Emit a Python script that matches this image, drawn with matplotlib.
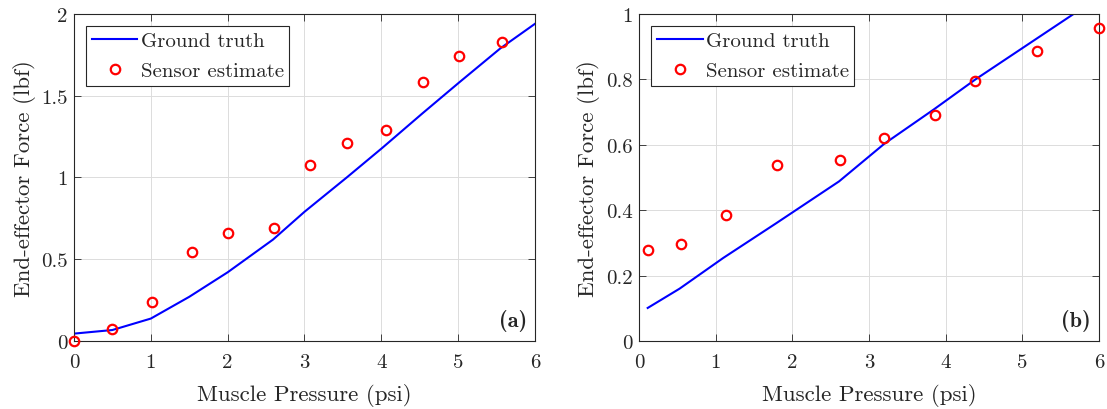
import matplotlib
matplotlib.use("Agg")
import matplotlib.pyplot as plt

plt.rcParams["font.family"] = "cmr10"
plt.rcParams["mathtext.fontset"] = "cm"
plt.rcParams["axes.formatter.use_mathtext"] = True

# Panel (a)
gt_a_x = [0.0, 0.5, 1.0, 1.5, 2.0, 2.59, 3.0, 3.55, 4.01, 4.53, 5.01, 5.55, 6.0]
gt_a_y = [0.045, 0.067, 0.137, 0.27, 0.42, 0.62, 0.79, 1.0, 1.18, 1.39, 1.58, 1.79, 1.94]
est_a_x = [0.0, 0.5, 1.01, 1.53, 2.0, 2.6, 3.07, 3.55, 4.06, 4.54, 5.01, 5.57]
est_a_y = [0.0, 0.075, 0.24, 0.547, 0.66, 0.69, 1.078, 1.208, 1.288, 1.584, 1.743, 1.83]

# Panel (b)
gt_b_x = [0.114, 0.53, 1.10, 1.79, 2.61, 3.2, 3.84, 4.39, 5.03, 5.67, 6.0]
gt_b_y = [0.101, 0.16, 0.254, 0.36, 0.488, 0.603, 0.707, 0.80, 0.90, 1.0, 1.052]
est_b_x = [0.114, 0.55, 1.14, 1.80, 2.62, 3.2, 3.86, 4.39, 5.19, 6.0]
est_b_y = [0.277, 0.296, 0.386, 0.538, 0.552, 0.62, 0.691, 0.796, 0.886, 0.956]

TXT = "#262626"

fig = plt.figure(figsize=(11.07, 4.10), dpi=100)
ax1 = fig.add_axes([0.0668, 0.1659, 0.4165, 0.7976])
ax2 = fig.add_axes([0.5772, 0.1659, 0.4155, 0.7976])


def style(ax, gx, gy, ex, ey, ylim, yticks, yticklabels, tag):
    ax.plot(gx, gy, "-", color="#0000ff", linewidth=1.5, label="Ground truth")
    ax.plot(ex, ey, "o", markerfacecolor="none", markeredgecolor="#ff0000",
            markeredgewidth=1.6, markersize=6.8, label="Sensor estimate", clip_on=False,
            zorder=5)
    ax.set_xlim(0, 6)
    ax.set_ylim(*ylim)
    ax.set_xticks(range(7))
    ax.set_xticklabels([str(i) for i in range(7)])
    ax.set_yticks(yticks)
    ax.set_yticklabels(yticklabels)
    ax.tick_params(direction="in", top=True, right=True, labelsize=15, colors=TXT,
                   length=5, width=0.6)
    ax.tick_params(axis="x", pad=9)
    ax.tick_params(axis="y", pad=4.5)
    ax.grid(True, color="#dcdcdc", linewidth=0.7)
    ax.set_axisbelow(True)
    for s in ax.spines.values():
        s.set_color(TXT)
        s.set_linewidth(0.8)
    ax.set_xlabel("Muscle Pressure (psi)", fontsize=16.5, color=TXT, labelpad=8)
    ax.set_ylabel("End-effector Force (lbf)", fontsize=16.5, color=TXT, labelpad=4)
    leg = ax.legend(loc="upper left", fontsize=15, fancybox=False, framealpha=1,
                    edgecolor=TXT, borderaxespad=0.6, handlelength=2.2,
                    handletextpad=0.15, borderpad=0.25, labelspacing=0.55)
    leg.get_frame().set_linewidth(0.8)
    for t in leg.get_texts():
        t.set_color(TXT)
    ax.text(0.983, 0.03, tag, transform=ax.transAxes, ha="right", va="bottom",
            fontsize=16, fontfamily="cmb10", color=TXT)


style(ax1, gt_a_x, gt_a_y, est_a_x, est_a_y, (0, 2),
      [0, 0.5, 1, 1.5, 2], ["0", "0.5", "1", "1.5", "2"], "(a)")
style(ax2, gt_b_x, gt_b_y, est_b_x, est_b_y, (0, 1),
      [0, 0.2, 0.4, 0.6, 0.8, 1], ["0", "0.2", "0.4", "0.6", "0.8", "1"], "(b)")

fig.savefig("out.png", dpi=100)
